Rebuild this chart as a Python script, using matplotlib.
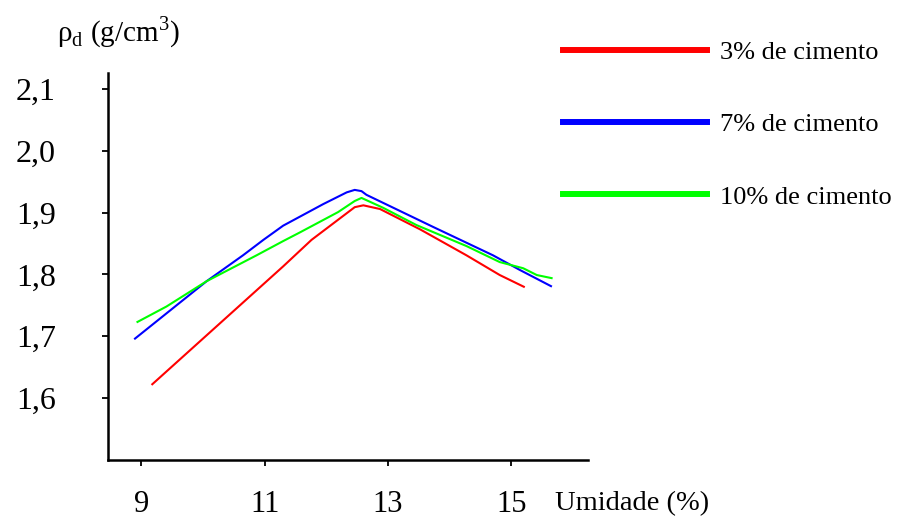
import matplotlib
matplotlib.use("Agg")
import matplotlib.pyplot as plt

plt.rcParams['font.family'] = ['Liberation Serif', 'DejaVu Serif']
plt.rcParams['mathtext.fontset'] = 'custom'
plt.rcParams['mathtext.rm'] = 'Liberation Serif'

# umidade (%) e massa especifica seca (g/cm3)
x_3 = [9.18, 11.30, 11.76, 12.46, 12.60, 12.87, 13.52, 14.27, 14.81, 15.20]
y_3 = [1.622, 1.813, 1.856, 1.909, 1.912, 1.906, 1.873, 1.831, 1.799, 1.780]

x_7 = [8.90, 10.06, 10.65, 10.98, 11.30, 11.95, 12.33, 12.46, 12.57, 12.65,
       13.73, 14.70, 15.14, 15.64]
y_7 = [1.696, 1.789, 1.831, 1.856, 1.879, 1.914, 1.933, 1.937, 1.935, 1.929,
       1.877, 1.831, 1.807, 1.781]

x_10 = [8.94, 9.41, 10.06, 10.87, 11.30, 11.57, 12.19, 12.46, 12.57, 12.92,
        13.46, 14.27, 14.81, 15.19, 15.41, 15.65]
y_10 = [1.723, 1.748, 1.789, 1.831, 1.854, 1.868, 1.901, 1.919, 1.924, 1.908,
        1.880, 1.846, 1.820, 1.810, 1.799, 1.794]

labels = ['3% de cimento', '7% de cimento', '10% de cimento']
cores = ['#ff0000', '#0000ff', '#00ff00']

xticks = [9, 11, 13, 15]
yticks = [1.6, 1.7, 1.8, 1.9, 2.0, 2.1]
ytick_labels = ['1,6', '1,7', '1,8', '1,9', '2,0', '2,1']

fig = plt.figure(figsize=(8.98, 5.19), dpi=100)
ax = fig.add_axes([0.1208, 0.1146, 0.534, 0.7442])

series = [(x_3, y_3), (x_7, y_7), (x_10, y_10)]
for (xs, ys), lab, c in zip(series, labels, cores):
    ax.plot(xs, ys, color=c, lw=1.5, label=lab)

ax.set_xlim(8.47, 16.24)
ax.set_ylim(1.5, 2.126)
ax.set_xticks(xticks)
ax.set_xticklabels([str(t) for t in xticks])
ax.set_yticks(yticks)
ax.set_yticklabels(ytick_labels)

for s in ['top', 'right']:
    ax.spines[s].set_visible(False)
for s in ['left', 'bottom']:
    ax.spines[s].set_linewidth(1.8)

ax.tick_params(axis='x', direction='out', length=4, width=1.3, pad=18, labelsize=22)
ax.tick_params(axis='y', direction='out', length=4, width=1.3, pad=34, labelsize=23)

fig.text(0.063, 0.937, r'ρ$_\mathrm{d}$ (g/cm$^3$)', fontsize=21, va='center')
fig.text(0.618, 0.030, 'Umidade (%)', fontsize=20.5, va='center')

leg = ax.legend(loc='upper left', bbox_to_anchor=(0.6266, 0.922),
                bbox_transform=fig.transFigure, frameon=False, fontsize=19,
                handlelength=5.45, handletextpad=0.5, labelspacing=1.85,
                borderpad=0, borderaxespad=0)
for h in leg.get_lines():
    h.set_linewidth(4.3)

fig.savefig('out.png', dpi=100)
